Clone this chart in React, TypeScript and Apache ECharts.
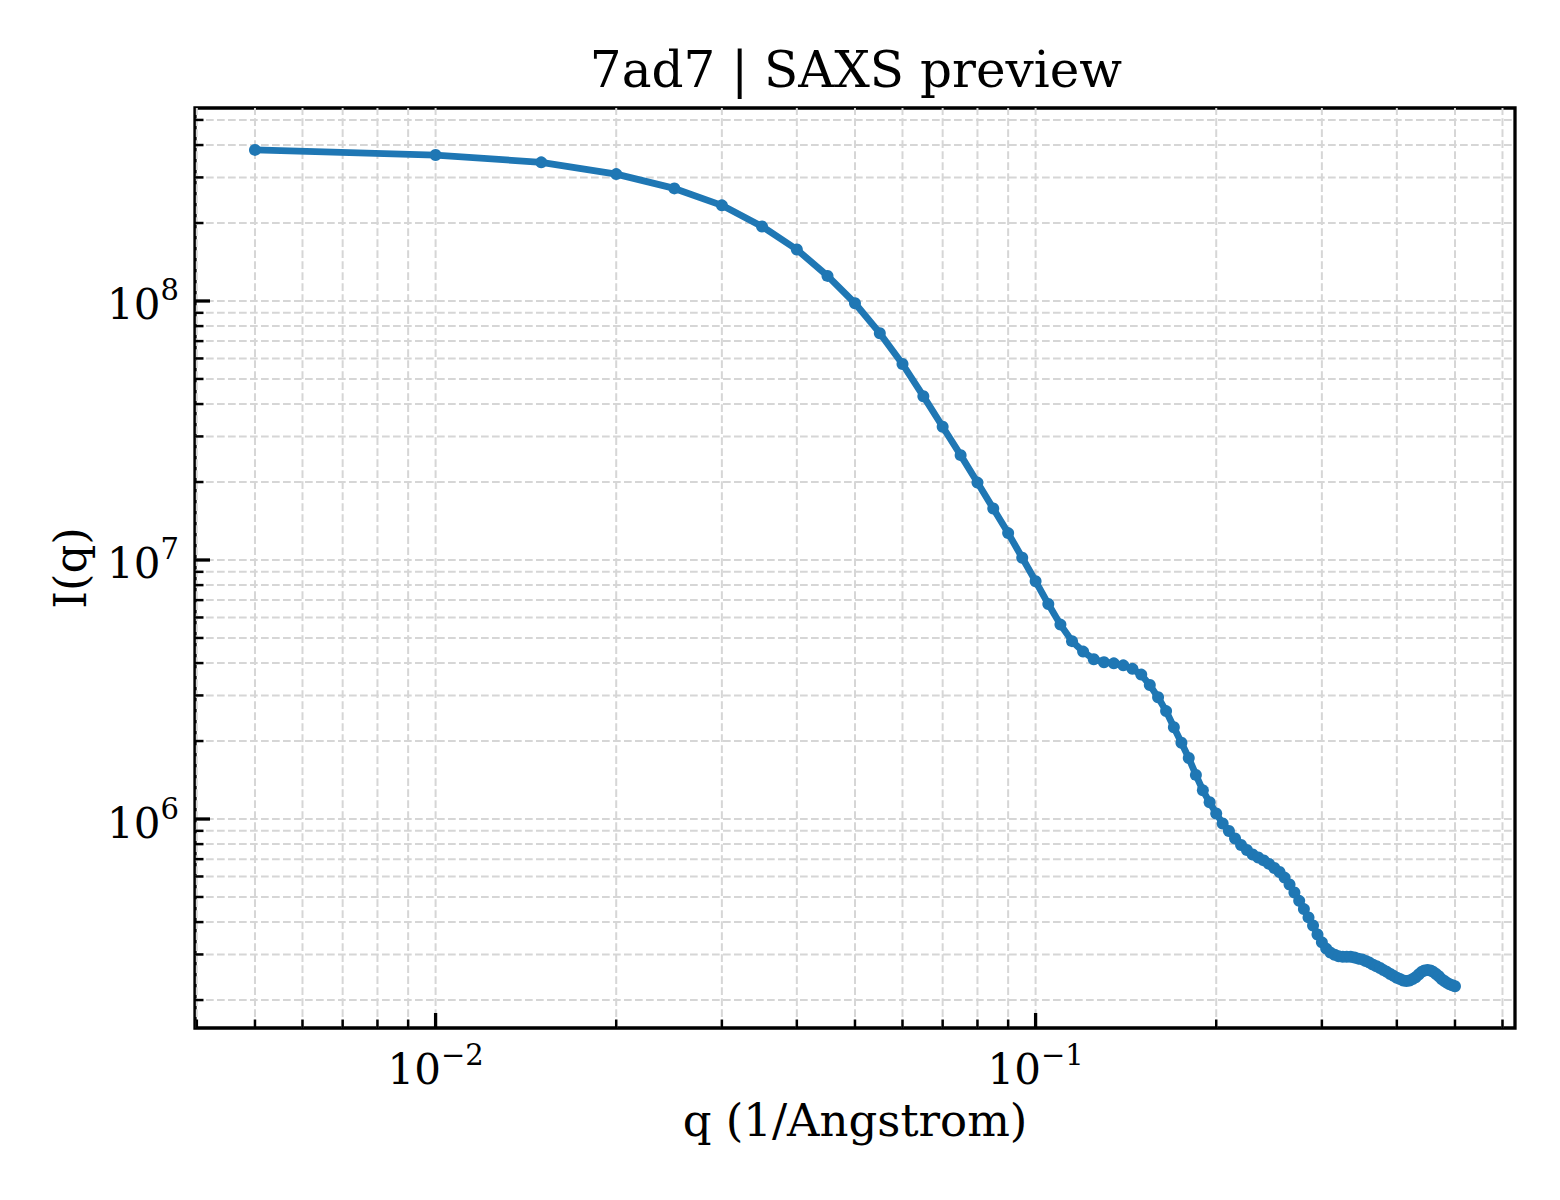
import { useEffect, useRef } from 'react';
import * as echarts from 'echarts';

// scattering vector q (1/Angstrom)
const Q = [
  0.005, 0.01, 0.015, 0.02, 0.025, 0.03, 0.035, 0.04, 0.045, 0.05,
  0.055, 0.06, 0.065, 0.07, 0.075, 0.08, 0.085, 0.09, 0.095, 0.1,
  0.105, 0.11, 0.115, 0.12, 0.125, 0.13, 0.135, 0.14, 0.145, 0.15,
  0.155, 0.16, 0.165, 0.17, 0.175, 0.18, 0.185, 0.19, 0.195, 0.2,
  0.205, 0.21, 0.215, 0.22, 0.225, 0.23, 0.235, 0.24, 0.245, 0.25,
  0.255, 0.26, 0.265, 0.27, 0.275, 0.28, 0.285, 0.29, 0.295, 0.3,
  0.305, 0.31, 0.315, 0.32, 0.325, 0.33, 0.335, 0.34, 0.345, 0.35,
  0.355, 0.36, 0.365, 0.37, 0.375, 0.38, 0.385, 0.39, 0.395, 0.4,
  0.405, 0.41, 0.415, 0.42, 0.425, 0.43, 0.435, 0.44, 0.445, 0.45,
  0.455, 0.46, 0.465, 0.47, 0.475, 0.48, 0.485, 0.49, 0.495, 0.5,
];

// intensity I(q)
const INTENSITY = [
  3.83e8, 3.66e8, 3.43e8, 3.09e8, 2.72e8, 2.34e8, 1.94e8, 1.58e8, 1.25e8, 9.8e7,
  7.51e7, 5.71e7, 4.29e7, 3.27e7, 2.54e7, 1.99e7, 1.58e7, 1.27e7, 1.02e7, 8.28e6,
  6.76e6, 5.63e6, 4.86e6, 4.43e6, 4.14e6, 4.03e6, 3.99e6, 3.92e6, 3.8e6, 3.61e6,
  3.29e6, 2.95e6, 2.61e6, 2.26e6, 1.97e6, 1.72e6, 1.48e6, 1.29e6, 1.16e6, 1.05e6,
  9.61e5, 8.99e5, 8.41e5, 7.94e5, 7.59e5, 7.29e5, 7.1e5, 6.92e5, 6.71e5, 6.47e5,
  6.24e5, 5.94e5, 5.59e5, 5.2e5, 4.83e5, 4.49e5, 4.17e5, 3.88e5, 3.58e5, 3.34e5,
  3.16e5, 3.05e5, 2.99e5, 2.95e5, 2.94e5, 2.94e5, 2.94e5, 2.92e5, 2.89e5, 2.87e5,
  2.83e5, 2.79e5, 2.74e5, 2.7e5, 2.66e5, 2.61e5, 2.57e5, 2.52e5, 2.48e5, 2.44e5,
  2.41e5, 2.38e5, 2.37e5, 2.38e5, 2.41e5, 2.45e5, 2.51e5, 2.57e5, 2.6e5, 2.61e5,
  2.6e5, 2.57e5, 2.52e5, 2.47e5, 2.41e5, 2.37e5, 2.33e5, 2.3e5, 2.28e5, 2.26e5,
];

const X_RANGE = [0.003972, 0.6295];
const Y_RANGE = [1.56e5, 5.56e8];
const X_MAJOR = [0.01, 0.1];
const Y_MAJOR = [1e6, 1e7, 1e8];

const FONT = 'DejaVu Serif';
const LINE_COLOR = '#1f77b4';
const GRID_COLOR = '#d6d6d6';

// 2..9 x 10^n inside a range
function minorTicks(lo: number, hi: number): number[] {
  const out: number[] = [];
  for (let d = Math.floor(Math.log10(lo)); d <= Math.ceil(Math.log10(hi)); d++) {
    for (let k = 2; k <= 9; k++) {
      const v = k * Math.pow(10, d);
      if (v > lo && v < hi) out.push(v);
    }
  }
  return out;
}

const X_MINOR = minorTicks(X_RANGE[0], X_RANGE[1]);
const Y_MINOR = minorTicks(Y_RANGE[0], Y_RANGE[1]);

function powLabel(v: number): string {
  const e = Math.log10(v);
  const r = Math.round(e);
  if (Math.abs(e - r) > 1e-6) return '';
  const exp = r < 0 ? '\u2212' + Math.abs(r) : String(r);
  return `{b|10}{s|${exp}}`;
}

const labelRich = {
  b: { fontFamily: FONT, fontSize: 42, lineHeight: 50, color: '#000', verticalAlign: 'bottom' },
  s: { fontFamily: FONT, fontSize: 29, lineHeight: 29, color: '#000', verticalAlign: 'top' },
};

export default function App() {
  const chartRef = useRef<HTMLDivElement>(null);

  useEffect(() => {
    if (!chartRef.current) return;
    const chart = echarts.init(chartRef.current, null, { renderer: 'svg' });

    const points = Q.map((q, i) => [q, INTENSITY[i]]);
    const gridStyle = { stroke: GRID_COLOR, lineWidth: 2, lineDash: [7.7, 3.3] };

    const option = {
      animation: false,
      backgroundColor: '#fff',
      title: {
        text: '7ad7 | SAXS preview',
        left: 851,
        top: 40,
        textAlign: 'center',
        textStyle: { fontFamily: FONT, fontSize: 50, fontWeight: 'normal', color: '#000' },
      },
      grid: {
        left: 195,
        top: 108,
        width: 1320,
        height: 920,
        show: true,
        borderColor: '#000',
        borderWidth: 3.3,
        backgroundColor: 'transparent',
      },
      xAxis: {
        type: 'log',
        logBase: 10,
        min: X_RANGE[0],
        max: X_RANGE[1],
        name: 'q (1/Angstrom)',
        nameLocation: 'middle',
        nameGap: 70,
        nameTextStyle: { fontFamily: FONT, fontSize: 45, color: '#000' },
        axisLine: { show: false },
        axisTick: { show: false },
        splitLine: { show: false },
        axisLabel: { margin: 12, fontFamily: FONT, fontSize: 42, formatter: powLabel, rich: labelRich },
      },
      yAxis: {
        type: 'log',
        logBase: 10,
        min: Y_RANGE[0],
        max: Y_RANGE[1],
        name: 'I(q)',
        nameLocation: 'middle',
        nameGap: 102,
        nameTextStyle: { fontFamily: FONT, fontSize: 45, color: '#000' },
        axisLine: { show: false },
        axisTick: { show: false },
        splitLine: { show: false },
        axisLabel: { margin: 16, fontFamily: FONT, fontSize: 42, formatter: powLabel, rich: labelRich },
      },
      series: [
        {
          // dashed major + minor grid
          type: 'custom',
          z: 1,
          silent: true,
          clip: false,
          data: [[0.01, 1e6]],
          renderItem: (_params: any, api: any) => {
            const children: any[] = [];
            const [left, bottom] = api.coord([X_RANGE[0], Y_RANGE[0]]);
            const [right, top] = api.coord([X_RANGE[1], Y_RANGE[1]]);
            [...X_MAJOR, ...X_MINOR].forEach((v) => {
              const px = api.coord([v, Y_RANGE[0]])[0];
              children.push({ type: 'line', shape: { x1: px, y1: bottom, x2: px, y2: top }, style: gridStyle });
            });
            [...Y_MAJOR, ...Y_MINOR].forEach((v) => {
              const py = api.coord([X_RANGE[0], v])[1];
              children.push({ type: 'line', shape: { x1: left, y1: py, x2: right, y2: py }, style: gridStyle });
            });
            return { type: 'group', children };
          },
        },
        {
          name: 'SAXS',
          type: 'line',
          z: 2,
          data: points,
          symbol: 'circle',
          symbolSize: 12,
          showSymbol: true,
          lineStyle: { color: LINE_COLOR, width: 6.8 },
          itemStyle: { color: LINE_COLOR },
        },
        {
          // inward ticks on bottom and left
          type: 'custom',
          z: 3,
          silent: true,
          clip: false,
          data: [[0.01, 1e6]],
          renderItem: (_params: any, api: any) => {
            const children: any[] = [];
            const [left, bottom] = api.coord([X_RANGE[0], Y_RANGE[0]]);
            const tick = (x1: number, y1: number, x2: number, y2: number, w: number) =>
              children.push({ type: 'line', shape: { x1, y1, x2, y2 }, style: { stroke: '#000', lineWidth: w } });
            X_MAJOR.forEach((v) => {
              const px = api.coord([v, Y_RANGE[0]])[0];
              tick(px, bottom, px, bottom - 15, 3.3);
            });
            X_MINOR.forEach((v) => {
              const px = api.coord([v, Y_RANGE[0]])[0];
              tick(px, bottom, px, bottom - 8.5, 2.5);
            });
            Y_MAJOR.forEach((v) => {
              const py = api.coord([X_RANGE[0], v])[1];
              tick(left, py, left + 15, py, 3.3);
            });
            Y_MINOR.forEach((v) => {
              const py = api.coord([X_RANGE[0], v])[1];
              tick(left, py, left + 8.5, py, 2.5);
            });
            return { type: 'group', children };
          },
        },
      ],
    };

    chart.setOption(option as any);
    return () => {
      chart.dispose();
    };
  }, []);

  return (
    <div
      ref={chartRef}
      style={{ position: 'absolute', left: 0, top: 0, width: 1560, height: 1200 }}
    />
  );
}
